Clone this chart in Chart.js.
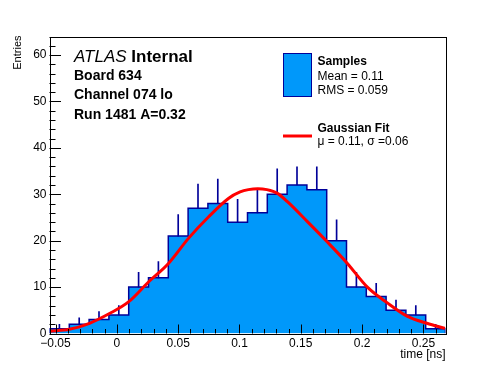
<!DOCTYPE html>
<html>
<head>
<meta charset="utf-8">
<script src="https://cdn.jsdelivr.net/npm/chart.js@4.4.1/dist/chart.umd.min.js"></script>
<style>
  html, body { margin: 0; padding: 0; background: #fff; }
</style>
</head>
<body>
<canvas id="histChart" width="496" height="372"></canvas>
<script>
// histogram range and contents (20 bins)
const xMin = -0.0549;
const xMax = 0.268;
const counts = [1, 2, 3, 4, 10, 12, 21, 27, 28, 24, 26, 30, 32, 31, 20, 10, 8, 5, 4, 1];
// upper end of each error bar
const errorTops = [2, 3.4, 4.7, 6, 13.2, 15.5, 25.6, 32.2, 33.3, 28.9, 31.1, 35.5, 35.9, 35.9, 24.5, 13.2, 10.8, 7.2, 6, 2];

// gaussian fit curve
const fitX = [-0.0544, -0.0387, -0.0223, -0.0060, 0.0095, 0.0258, 0.0421, 0.0584, 0.0747, 0.0910, 0.1005, 0.1073, 0.1150, 0.1223, 0.1310, 0.1391, 0.1554, 0.1717, 0.1880, 0.2043, 0.2206, 0.2370, 0.2528, 0.2677];
const fitY = [0.5, 0.9, 2.2, 4.3, 6.8, 11.1, 15.1, 20.5, 25.1, 29.1, 30.5, 31.0, 31.2, 31.0, 30.2, 28.4, 24.1, 19.7, 15.1, 10.0, 6.6, 3.7, 2.2, 1.1];

const xTicks = [-0.05, 0, 0.05, 0.1, 0.15, 0.2, 0.25];
const xTickLabels = ['\u22120.05', '0', '0.05', '0.1', '0.15', '0.2', '0.25'];
const xMinorStep = 0.01;
const yTicks = [0, 10, 20, 30, 40, 50, 60];
const yMinorStep = 2;
const yMax = 64;

const FONT = '"Liberation Sans", Arial, Helvetica, sans-serif';
const histFill = '#0098fa';
const histLine = '#000099';

// bin edges / centres
const binWidth = (xMax - xMin) / counts.length;
const edges = [];
for (let i = 0; i <= counts.length; i++) edges.push(xMin + i * binWidth);
const centers = counts.map((c, i) => edges[i] + binWidth / 2);

// step outline: (left edge, value) for each bin, closed down to zero
const stepData = [{x: edges[0], y: 0}];
counts.forEach((c, i) => stepData.push({x: edges[i], y: c}));
stepData.push({x: edges[counts.length], y: 0});

const errData = counts.map((c, i) => ({x: centers[i], y: [c, errorTops[i]]}));
const fitData = fitX.map((x, i) => ({x: x, y: fitY[i]}));

// ROOT style frame with inward ticks
const rootFrame = {
    id: 'rootFrame',
    afterDatasetsDraw(chart) {
        const ctx = chart.ctx;
        const a = chart.chartArea;
        const xs = chart.scales.x, ys = chart.scales.y;
        ctx.save();
        ctx.strokeStyle = '#000';
        ctx.lineWidth = 1;
        ctx.beginPath();
        // y ticks
        for (let v = 0; v <= yMax + 1e-9; v += yMinorStep) {
            const y = Math.round(ys.getPixelForValue(v)) + 0.5;
            const len = (v % 10 === 0) ? 11.5 : 6;
            ctx.moveTo(a.left, y);
            ctx.lineTo(a.left + len, y);
        }
        // x ticks
        const start = Math.ceil(xMin / xMinorStep) * xMinorStep;
        for (let v = start; v <= xMax + 1e-9; v += xMinorStep) {
            const x = Math.round(xs.getPixelForValue(v)) + 0.5;
            const k = Math.round(v / xMinorStep);
            const len = (k % 5 === 0) ? 9 : 4.5;
            ctx.moveTo(x, a.bottom);
            ctx.lineTo(x, a.bottom - len);
        }
        ctx.stroke();
        ctx.strokeRect(Math.round(a.left) + 0.5, Math.round(a.top) + 0.5,
            Math.round(a.right) - Math.round(a.left), Math.round(a.bottom) - Math.round(a.top));
        ctx.restore();
    },
    afterDraw(chart) {
        const ctx = chart.ctx;
        const a = chart.chartArea;
        ctx.save();
        ctx.fillStyle = '#000';
        ctx.textBaseline = 'middle';

        // axis titles
        ctx.font = '12px ' + FONT;
        ctx.textAlign = 'right';
        ctx.fillText('time [ns]', a.right, 355);
        ctx.font = '11px ' + FONT;
        ctx.save();
        ctx.translate(18, a.top - 1);
        ctx.rotate(-Math.PI / 2);
        ctx.fillText('Entries', 0, 0);
        ctx.restore();

        // labels
        ctx.textAlign = 'left';
        ctx.font = 'italic 17px ' + FONT;
        ctx.fillText('ATLAS', 74, 57);
        const w = ctx.measureText('ATLAS ').width;
        ctx.font = 'bold 17px ' + FONT;
        ctx.fillText('Internal', 74 + w, 57);
        ctx.font = 'bold 14px ' + FONT;
        ctx.fillText('Board 634', 74, 76);
        ctx.fillText('Channel 074 lo', 74, 95.5);
        ctx.fillText('Run 1481 A=0.32', 74, 115);

        // legend
        ctx.fillStyle = histFill;
        ctx.fillRect(283.5, 53.5, 28, 43);
        ctx.strokeStyle = histLine;
        ctx.lineWidth = 1;
        ctx.strokeRect(283.5, 53.5, 28, 43);
        ctx.fillStyle = '#000';
        ctx.font = 'bold 12px ' + FONT;
        ctx.fillText('Samples', 317.5, 61.5);
        ctx.font = '12px ' + FONT;
        ctx.fillText('Mean = 0.11', 317.5, 76.5);
        ctx.fillText('RMS = 0.059', 317.5, 90.5);
        ctx.strokeStyle = '#ff0000';
        ctx.lineWidth = 3;
        ctx.beginPath();
        ctx.moveTo(283, 136);
        ctx.lineTo(312, 136);
        ctx.stroke();
        ctx.font = 'bold 12px ' + FONT;
        ctx.fillText('Gaussian Fit', 317.5, 129);
        ctx.font = '12px ' + FONT;
        ctx.fillText('\u03bc = 0.11, \u03c3 =0.06', 317.5, 142);
        ctx.restore();
    }
};

Chart.defaults.font.family = FONT;
Chart.defaults.font.size = 12;
Chart.defaults.color = '#000';

const chart = new Chart(document.getElementById('histChart').getContext('2d'), {
    type: 'line',
    data: {
        datasets: [
            {
                label: 'Gaussian Fit',
                data: fitData,
                borderColor: '#ff0000',
                borderWidth: 3,
                pointRadius: 0,
                cubicInterpolationMode: 'monotone',
                fill: false,
                order: 0
            },
            {
                type: 'bar',
                label: 'errors',
                data: errData,
                backgroundColor: histLine,
                barThickness: 1,
                order: 1
            },
            {
                label: 'Samples',
                data: stepData,
                stepped: 'before',
                borderColor: histLine,
                borderWidth: 1.5,
                backgroundColor: histFill,
                fill: 'origin',
                pointRadius: 0,
                tension: 0,
                order: 2
            }
        ]
    },
    options: {
        responsive: false,
        animation: false,
        devicePixelRatio: 1,
        layout: { padding: { left: 0, top: 36.5, right: 50.5, bottom: 0 } },
        plugins: {
            legend: { display: false },
            tooltip: { enabled: false }
        },
        scales: {
            x: {
                type: 'linear',
                min: xMin,
                max: xMax,
                offset: false,
                grid: { display: false, drawTicks: false },
                border: { display: false },
                ticks: {
                    autoSkip: false,
                    maxRotation: 0,
                    padding: 3,
                    callback: (v, i) => xTickLabels[i]
                },
                afterBuildTicks: s => { s.ticks = xTicks.map(v => ({value: v})); },
                afterFit: s => { s.height = 38.5; }
            },
            y: {
                min: 0,
                max: yMax,
                grid: { display: false, drawTicks: false },
                border: { display: false },
                ticks: { padding: 3 },
                afterBuildTicks: s => { s.ticks = yTicks.map(v => ({value: v})); },
                afterFit: s => { s.width = 49.5; }
            }
        }
    },
    plugins: [rootFrame]
});
</script>
</body>
</html>
